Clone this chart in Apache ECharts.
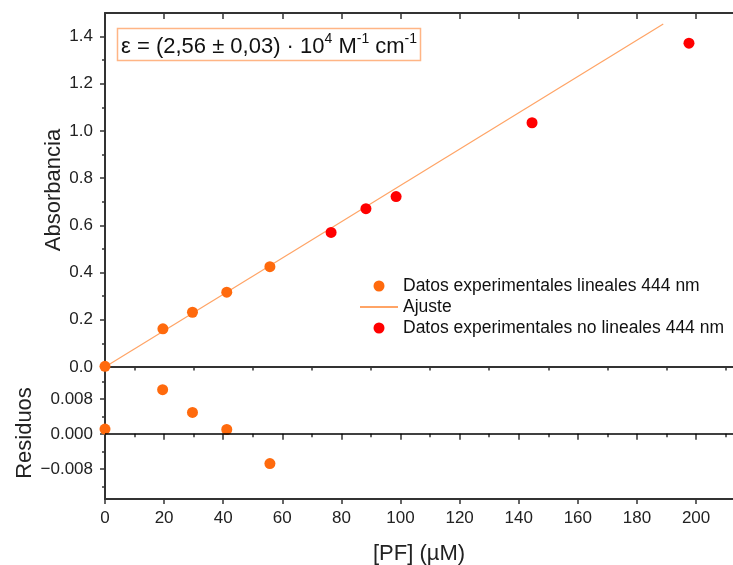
<!DOCTYPE html>
<html>
<head>
<meta charset="utf-8">
<script src="https://cdn.jsdelivr.net/npm/echarts@6/dist/echarts.min.js"></script>
<style>html,body{margin:0;padding:0;background:#fff}#c{width:733px;height:565px}</style>
</head>
<body>
<div id="c"></div>
<script>
// ---- data ----
const linX = [0, 19.6, 29.6, 41.2, 55.8];
const linY = [0.003, 0.162, 0.232, 0.317, 0.425];
const nonlinX = [76.5, 88.3, 98.5, 144.5, 197.6];
const nonlinY = [0.570, 0.671, 0.722, 1.035, 1.372];
const fitX = [0, 188.9];
const fitY = [0.000, 1.453];
const resX = [0, 19.5, 29.6, 41.2, 55.8];
const resY = [0.0011, 0.0101, 0.0049, 0.0010, -0.0068];

const xMajor = [0, 20, 40, 60, 80, 100, 120, 140, 160, 180, 200];
const xMinor = [10, 30, 50, 70, 90, 110, 130, 150, 170, 190, 210];
const yMajor = [0, 0.2, 0.4, 0.6, 0.8, 1.0, 1.2, 1.4];
const yMinor = [0.1, 0.3, 0.5, 0.7, 0.9, 1.1, 1.3];
const rMajor = [-0.008, 0, 0.008];
const rMinor = [-0.012, -0.004, 0.004, 0.012];

const nameLin = 'Datos experimentales lineales 444 nm';
const nameFit = 'Ajuste';
const nameNon = 'Datos experimentales no lineales 444 nm';

const FONT = 'Liberation Sans, Arial, sans-serif';
const AX = '#333';
const ORANGE = '#FF6A0D';
const RED = '#FF0000';
const FITC = '#FFA466';
const XMAX = 212.5;

const zip = (a, b) => a.map((v, i) => [v, b[i]]);

function xAx(grid, opts) {
  return Object.assign({
    type: 'value', gridIndex: grid, min: 0, max: XMAX,
    splitLine: {show: false},
    axisLine: {show: true, onZero: false, lineStyle: {color: AX, width: 2}},
    axisTick: {show: false},
    axisLabel: {show: false}
  }, opts);
}
function yAx(grid, min, max, opts) {
  return Object.assign({
    type: 'value', gridIndex: grid, min: min, max: max,
    splitLine: {show: false},
    axisLine: {show: true, onZero: false, lineStyle: {color: AX, width: 2}},
    axisTick: {show: false},
    axisLabel: {show: false}
  }, opts);
}
const tick = (vals, len, inside) => ({show: true, customValues: vals, length: len, inside: inside, lineStyle: {color: AX, width: 1.5}});

const chart = echarts.init(document.getElementById('c'));
chart.setOption({
  animation: false,
  backgroundColor: '#fff',
  textStyle: {fontFamily: FONT},
  grid: [
    {left: 105, top: 13, right: 0, height: 354, outerBoundsMode: 'none', containLabel: false},
    {left: 105, top: 367, right: 0, height: 132, outerBoundsMode: 'none', containLabel: false}
  ],
  xAxis: [
    xAx(0, {position: 'bottom'}),
    xAx(0, {position: 'top', axisTick: tick(xMajor, 6, true)}),
    xAx(0, {position: 'top', axisLine: {show: false}, axisTick: tick(xMinor, 3.5, true)}),
    xAx(1, {position: 'bottom', axisTick: tick(xMajor, 5, false),
      axisLabel: {show: true, customValues: xMajor, fontSize: 17, color: '#222', margin: 11, fontFamily: FONT},
      name: '[PF] (µM)', nameLocation: 'middle', nameGap: 44, nameMoveOverlap: false,
      nameTextStyle: {fontSize: 22, color: '#222', fontFamily: FONT}}),
    xAx(1, {position: 'bottom', axisLine: {show: false}, axisTick: tick(xMinor, 3, false)}),
    xAx(1, {position: 'top', axisLine: {show: false}, axisTick: tick(xMajor, 6, true)}),
    xAx(1, {position: 'top', axisLine: {show: false}, axisTick: tick(xMinor, 3.5, true)})
  ],
  yAxis: [
    yAx(0, 0, 1.5, {position: 'left', axisTick: tick(yMajor, 5, false),
      axisLabel: {show: true, customValues: yMajor, fontSize: 17, color: '#222', margin: 12, fontFamily: FONT,
        formatter: v => v.toFixed(1)},
      name: 'Absorbancia', nameLocation: 'middle', nameGap: 40, nameMoveOverlap: false,
      nameTextStyle: {fontSize: 22, color: '#222', fontFamily: FONT}}),
    yAx(0, 0, 1.5, {position: 'left', axisLine: {show: false}, axisTick: tick(yMinor, 3, false)}),
    yAx(0, 0, 1.5, {position: 'right', axisLine: {show: false}, axisTick: tick(yMajor, 2.5, true)}),
    yAx(1, -0.0149, 0.0153, {position: 'left', axisTick: tick(rMajor, 5, false),
      axisLabel: {show: true, customValues: rMajor, fontSize: 17, color: '#222', margin: 12, fontFamily: FONT,
        formatter: v => (v < 0 ? '\u2212' : '') + Math.abs(v).toFixed(3)},
      name: 'Residuos', nameLocation: 'middle', nameGap: 69, nameMoveOverlap: false,
      nameTextStyle: {fontSize: 22, color: '#222', fontFamily: FONT}}),
    yAx(1, -0.0149, 0.0153, {position: 'left', axisLine: {show: false}, axisTick: tick(rMinor, 3, false)}),
    yAx(1, -0.0149, 0.0153, {position: 'right', axisLine: {show: false}, axisTick: tick(rMajor, 2.5, true)})
  ],
  legend: {
    orient: 'vertical', left: 354, top: 272,
    itemWidth: 38, itemHeight: 11, itemGap: 3,
    textStyle: {fontSize: 17.5, color: '#111', fontFamily: FONT},
    data: [{name: nameLin, icon: 'circle'},
           {name: nameFit, itemStyle: {opacity: 0}},
           {name: nameNon, icon: 'circle'}]
  },
  series: [
    {name: nameFit, type: 'line', xAxisIndex: 0, yAxisIndex: 0, data: zip(fitX, fitY),
      showSymbol: false, symbol: 'none', lineStyle: {color: FITC, width: 1.2}, itemStyle: {color: FITC}, z: 1},
    {name: nameLin, type: 'scatter', xAxisIndex: 0, yAxisIndex: 0, data: zip(linX, linY),
      symbolSize: 11, itemStyle: {color: ORANGE, opacity: 1}, z: 3},
    {name: nameNon, type: 'scatter', xAxisIndex: 0, yAxisIndex: 0, data: zip(nonlinX, nonlinY),
      symbolSize: 11, itemStyle: {color: RED, opacity: 1}, z: 3},
    {name: 'Residuos', type: 'scatter', xAxisIndex: 3, yAxisIndex: 3, data: zip(resX, resY),
      symbolSize: 11, itemStyle: {color: ORANGE, opacity: 1}, z: 3,
      markLine: {silent: true, symbol: 'none', label: {show: false},
        lineStyle: {color: '#000', width: 1.5, type: 'solid'}, data: [{yAxis: 0}]}}
  ],
  graphic: [
    {type: 'rect', shape: {x: 117.5, y: 28.5, width: 303, height: 32},
      style: {fill: '#fff', stroke: '#FFB585', lineWidth: 1.5}, z: 10},
    {type: 'text', x: 121, y: 45, z: 11,
      style: {
        text: '{a|ε = (2,56 ± 0,03) · 10}{s|4}{a| M}{s|-1}{a| cm}{s|-1}',
        verticalAlign: 'middle', align: 'left',
        rich: {
          a: {fontSize: 22, fontFamily: FONT, fill: '#111', lineHeight: 26, verticalAlign: 'bottom'},
          s: {fontSize: 14, fontFamily: FONT, fill: '#111', lineHeight: 26, verticalAlign: 'top'}
        }
      }}
  ]
});
</script>
</body>
</html>
